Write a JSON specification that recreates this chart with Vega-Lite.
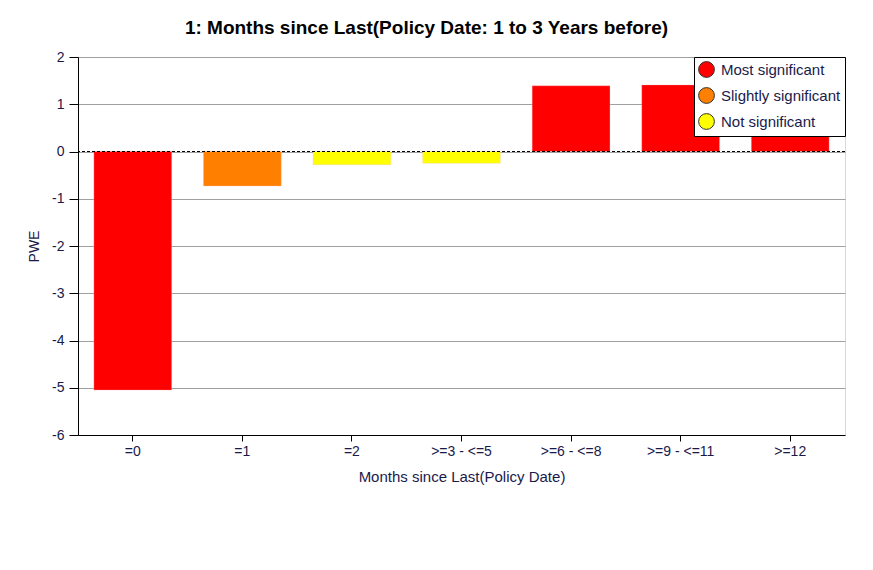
{
  "$schema": "https://vega.github.io/schema/vega-lite/v6.json",
  "width": 767,
  "height": 378,
  "autosize": {"type": "none"},
  "padding": {"left": 78, "top": 57, "right": 28, "bottom": 135},
  "background": "white",
  "title": {
    "text": "1: Months since Last(Policy Date: 1 to 3 Years before)",
    "font": "Liberation Sans",
    "fontSize": 19,
    "fontWeight": "bold",
    "color": "black",
    "anchor": "middle",
    "frame": "group",
    "dx": -35,
    "offset": 12
  },
  "data": {
    "values": [
      {"band": "=0", "pwe": -5.05, "sig": "Most significant"},
      {"band": "=1", "pwe": -0.73, "sig": "Slightly significant"},
      {"band": "=2", "pwe": -0.28, "sig": "Not significant"},
      {"band": ">=3 - <=5", "pwe": -0.25, "sig": "Not significant"},
      {"band": ">=6 - <=8", "pwe": 1.39, "sig": "Most significant"},
      {"band": ">=9 - <=11", "pwe": 1.41, "sig": "Most significant"},
      {"band": ">=12", "pwe": 1.3, "sig": "Most significant"}
    ]
  },
  "layer": [
    {
      "mark": {"type": "bar", "stroke": "#f4c0c0", "strokeWidth": 0.5, "strokeOpacity": 0.6},
      "encoding": {
        "x": {
          "field": "band",
          "type": "nominal",
          "sort": null,
          "title": "Months since Last(Policy Date)",
          "scale": {"paddingInner": 0.29, "paddingOuter": 0.145},
          "axis": {
            "labelAngle": 0,
            "labelFontSize": 14,
            "labelPadding": 3,
            "tickSize": 6,
            "tickColor": "black",
            "domainColor": "black",
            "titleFontSize": 15,
            "titlePadding": 11
          }
        },
        "y": {
          "field": "pwe",
          "type": "quantitative",
          "title": "PWE",
          "scale": {"domain": [-6, 2], "nice": false},
          "axis": {
            "values": [-6, -5, -4, -3, -2, -1, 0, 1, 2],
            "labelExpr": "'' + datum.value",
            "labelFontSize": 14,
            "labelPadding": 5,
            "tickSize": 9,
            "tickColor": "black",
            "domainColor": "black",
            "gridColor": "#a0a0a0",
            "titleFontSize": 14,
            "titlePadding": 10
          }
        },
        "color": {
          "field": "sig",
          "type": "nominal",
          "title": null,
          "scale": {
            "domain": ["Most significant", "Slightly significant", "Not significant"],
            "range": ["#ff0000", "#ff8000", "#ffff00"]
          },
          "legend": {
            "orient": "top-right",
            "offset": 0,
            "symbolType": "circle",
            "symbolSize": 250,
            "symbolStrokeColor": "#333333",
            "symbolStrokeWidth": 1,
            "symbolOpacity": 1,
            "labelFontSize": 15,
            "labelColor": "#1a1a4a",
            "labelFont": "Liberation Sans",
            "labelOffset": 6,
            "rowPadding": 5,
            "padding": 4,
            "strokeColor": "black",
            "fillColor": "white"
          }
        }
      }
    },
    {
      "mark": {"type": "rule", "color": "black", "strokeDash": [3, 2], "strokeWidth": 1},
      "encoding": {"y": {"datum": 0}}
    }
  ],
  "config": {
    "font": "Liberation Sans",
    "view": {"stroke": "#d8d8d8"},
    "axis": {
      "labelColor": "#1a1a4a",
      "titleColor": "#1a1a4a",
      "titleFontWeight": "normal",
      "labelFont": "Liberation Sans",
      "titleFont": "Liberation Sans",
      "grid": false
    },
    "axisY": {"grid": true}
  }
}
